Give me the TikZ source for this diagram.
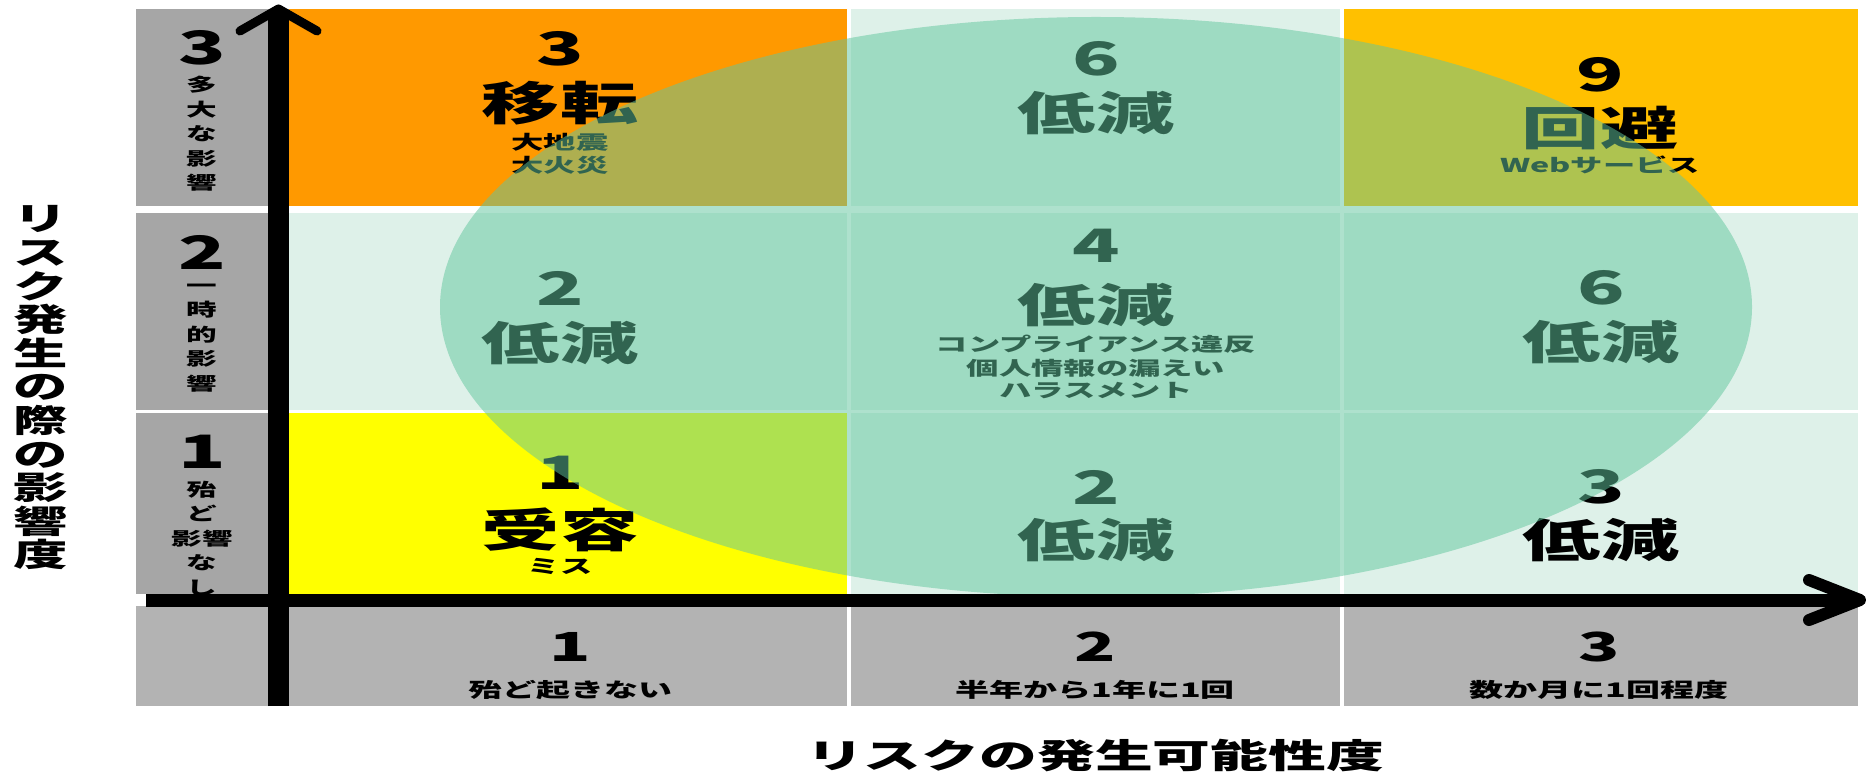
\documentclass[tikz,border=0pt]{standalone}
\usepackage{fontspec}
\newfontfamily\jp[FakeStretch=1.7]{Noto Sans CJK JP}
\definecolor{orangeA}{RGB}{255,153,0}
\definecolor{amber}{RGB}{255,192,0}
\definecolor{yel}{RGB}{255,255,0}
\definecolor{mint}{RGB}{222,241,233}
\definecolor{grayL}{RGB}{166,166,166}
\definecolor{grayB}{RGB}{179,179,179}
\definecolor{ellc}{RGB}{98,198,157}
\begin{document}
\begin{tikzpicture}[x=0.5pt,y=-0.5pt,
  every node/.style={inner sep=0pt,outer sep=0pt,text=black},
  bignum/.style={font=\jp\bfseries\fontsize{23}{23}\selectfont},
  bigword/.style={font=\jp\bfseries\fontsize{23}{23}\selectfont},
  subtxt/.style={font=\jp\bfseries\fontsize{9.5}{9.5}\selectfont},
  sidestack/.style={align=center,font=\jp\bfseries\fontsize{9}{12.25}\selectfont},
  botnum/.style={font=\jp\bfseries\fontsize{20}{20}\selectfont},
  botsub/.style={font=\jp\bfseries\fontsize{10}{10}\selectfont},
  xtitle/.style={font=\jp\bfseries\fontsize{17}{17}\selectfont},
  ytitle/.style={align=center,font=\jp\bfseries\fontsize{16}{16.8}\selectfont},
  axisline/.style={draw=black,line cap=butt},
  chevron/.style={draw=black,line cap=round,line join=round}]
% canvas
\fill[white] (0,0) rectangle (1866,774);
\useasboundingbox (0,0) rectangle (1866,774);
% left gray column
\fill[grayL] (136,9) rectangle (289,206);
\fill[grayL] (136,213) rectangle (289,410);
\fill[grayL] (136,413) rectangle (289,594);
% bottom gray row
\fill[grayB] (136,606) rectangle (847,706);
\fill[grayB] (851,606) rectangle (1340,706);
\fill[grayB] (1344,606) rectangle (1858,706);
% cells
\fill[orangeA] (289,9) rectangle (847,206);
\fill[mint] (851,9) rectangle (1340,206);
\fill[amber] (1344,9) rectangle (1858,206);
\fill[mint] (289,213) rectangle (847,410);
\fill[mint] (851,213) rectangle (1340,410);
\fill[mint] (1344,213) rectangle (1858,410);
\fill[yel] (289,413) rectangle (847,594);
\fill[mint] (851,413) rectangle (1340,594);
\fill[mint] (1344,413) rectangle (1858,594);
% cell texts
\node[bignum] (tl1) at (560,49) {3};
\node[bigword] (tl2) at (560,103) {移転};
\node[subtxt] (tl3) at (560,142) {大地震};
\node[subtxt] (tl4) at (560,165) {大火災};
\node[bignum] (tm1) at (1096,59) {6};
\node[bigword] (tm2) at (1096,113) {低減};
\node[bignum] (tr1) at (1600,75) {9};
\node[bigword] (tr2) at (1600,128) {回避};
\node[subtxt] (tr3) at (1600,165) {Webサービス};
\node[bignum] (ml1) at (560,288) {2};
\node[bigword] (ml2) at (560,343) {低減};
\node[bignum] (mm1) at (1096,246) {4};
\node[bigword] (mm2) at (1096,305) {低減};
\node[subtxt] (mm3) at (1096,344) {コンプライアンス違反};
\node[subtxt] (mm4) at (1096,368) {個人情報の漏えい};
\node[subtxt] (mm5) at (1096,391) {ハラスメント};
\node[bignum] (mr1) at (1601,288) {6};
\node[bigword] (mr2) at (1601,342) {低減};
\node[bignum] (bl1) at (560,473) {1};
\node[bigword] (bl2) at (560,530) {受容};
\node[subtxt] (bl3) at (560,566) {ミス};
\node[bignum] (bm1) at (1096,487) {2};
\node[bigword] (bm2) at (1096,540) {低減};
\node[bignum] (br1) at (1601,487) {3};
\node[bigword] (br2) at (1601,540) {低減};
% side labels
\node[bignum] (s3) at (202,48) {3};
\node[sidestack] (s3t) at (202,134) {多\\大\\な\\影\\響};
\node[bignum] (s2) at (202,252) {2};
\node[sidestack] (s2t) at (202,338) {一\\時\\的\\影\\響};
\node[bignum] (s1) at (202,452) {1};
\node[sidestack] (s1t) at (202,538) {殆\\ど\\影響\\な\\し};
% bottom labels
\node[botnum] (b1) at (570,647) {1};
\node[botsub] (b1t) at (570,690) {殆ど起きない};
\node[botnum] (b2) at (1095,647) {2};
\node[botsub] (b2t) at (1095,690) {半年から1年に1回};
\node[botnum] (b3) at (1599,647) {3};
\node[botsub] (b3t) at (1599,690) {数か月に1回程度};
% titles
\node[xtitle] (xt) at (1095,756) {リスクの発生可能性度};
\node[ytitle] (yt) at (41,388) {リ\\ス\\ク\\発\\生\\の\\際\\の\\影\\響\\度};
% translucent ellipse
\fill[ellc,fill opacity=0.51] (1096,307) ellipse [x radius=656, y radius=290];
% axes
\coordinate (ybot) at (278.5,706);
\coordinate (ytop) at (278.5,12);
\coordinate (yl) at (240,31);
\coordinate (yr) at (317,31);
\coordinate (ytip) at (278.5,9);
\coordinate (xl) at (146,600);
\coordinate (xr) at (1856,600);
\coordinate (xu) at (1809,580);
\coordinate (xd) at (1809,620);
\coordinate (xtip) at (1860,600);
\draw[axisline,line width=10.5pt] (ybot) -- (ytop);
\draw[chevron,line width=4.5pt] (yl) -- (ytip) -- (yr);
\draw[axisline,line width=6.5pt] (xl) -- (xr);
\draw[chevron,line width=6pt] (xu) -- (xtip) -- (xd);
\end{tikzpicture}
\end{document}
